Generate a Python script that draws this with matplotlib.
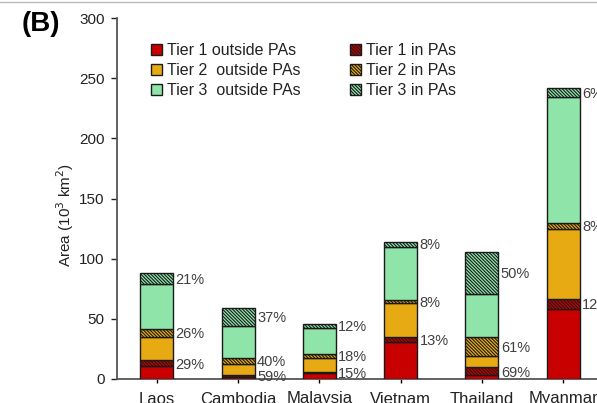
import matplotlib
matplotlib.use("Agg")
import matplotlib.pyplot as plt
import numpy as np

plt.rcParams['font.family'] = ['Liberation Sans', 'DejaVu Sans']
plt.rcParams['hatch.linewidth'] = 0.8

countries = ["Laos", "Cambodia", "Malaysia", "Vietnam", "Thailand", "Myanmar"]
t1_out = [10.4, 1.4, 4.7, 30.6, 3.0, 58.2]
t1_in = [5.2, 2.0, 0.9, 4.6, 6.8, 8.3]
t2_out = [19.2, 8.7, 12.2, 27.8, 9.6, 58.3]
t2_in = [6.9, 5.7, 2.7, 2.7, 15.1, 5.1]
t3_out = [37.5, 26.2, 22.0, 44.1, 36.0, 104.6]
t3_in = [8.9, 15.0, 3.0, 4.3, 35.3, 7.0]
pct_t1 = ["29%", "59%", "15%", "13%", "69%", "12%"]
pct_t2 = ["26%", "40%", "18%", "8%", "61%", "8%"]
pct_t3 = ["21%", "37%", "12%", "8%", "50%", "6%"]

red = "#C80000"
yellow = "#E8AA12"
green = "#8FE4AA"
hatch = "\\" * 10

fig = plt.figure(figsize=(5.97, 4.03), dpi=100)
ax = fig.add_axes([117/597, 24/403, 1 - 117/597 + 0.002, (379-18)/403])

x = np.arange(len(countries))
w = 0.405
segments = [
    (t1_out, red, None, "Tier 1 outside PAs"),
    (t1_in, red, hatch, "Tier 1 in PAs"),
    (t2_out, yellow, None, "Tier 2  outside PAs"),
    (t2_in, yellow, hatch, "Tier 2 in PAs"),
    (t3_out, green, None, "Tier 3  outside PAs"),
    (t3_in, green, hatch, "Tier 3 in PAs"),
]
bottom = np.zeros(len(countries))
handles = {}
mids = []
for vals, col, h, lab in segments:
    vals = np.array(vals)
    b = ax.bar(x, vals, w, bottom=bottom, color=col, edgecolor="#1a1a1a",
               linewidth=1.0, hatch=h, label=lab, zorder=3)
    handles[lab] = b
    if h is not None:
        mids.append(bottom + vals / 2)
    bottom = bottom + vals

for pcts, m in zip([pct_t1, pct_t2, pct_t3], mids):
    for xi, (p, yv) in enumerate(zip(pcts, m)):
        yy = max(yv, 1.8)
        ax.text(xi + w/2 + 0.03, yy - 1.0, p, fontsize=10.5, color="#404040",
                va="center", ha="left", zorder=4)

ax.set_xlim(-0.49, 5.43)
ax.set_ylim(0, 300)
ax.set_yticks(np.arange(0, 301, 50))
ax.set_xticks(x)
ax.set_xticklabels(countries, fontsize=12, color="#222222")
ax.tick_params(axis='y', labelsize=11, colors="#222222", length=4, width=1.0, direction='out', pad=5)
ax.tick_params(axis='x', length=3, width=1.0, pad=6)
for s in ["top", "right"]:
    ax.spines[s].set_visible(False)
for s in ["left", "bottom"]:
    ax.spines[s].set_color("#555555")
    ax.spines[s].set_linewidth(1.3)
ax.set_ylabel("Area (10$^3$ km$^2$)", fontsize=11, color="#222222")
ax.yaxis.set_label_coords(-0.086, 0.455)

order = ["Tier 1 outside PAs", "Tier 2  outside PAs", "Tier 3  outside PAs",
         "Tier 1 in PAs", "Tier 2 in PAs", "Tier 3 in PAs"]
leg = ax.legend([handles[o] for o in order], order, ncol=2, loc="upper left",
                bbox_to_anchor=(0.04, 0.97), frameon=False, fontsize=11.5,
                handlelength=0.7, handleheight=0.7, handletextpad=0.3,
                columnspacing=3.1, labelspacing=0.3)
for t in leg.get_texts():
    t.set_color("#222222")

fig.text(22/597, 1 - 24/403, "(B)", fontsize=20, fontweight="bold", va="center", ha="left")
fig.add_artist(plt.Line2D([0, 1], [1 - 2/403, 1 - 2/403], color="#bbbbbb", lw=1.0))

fig.savefig("out.png", dpi=100)
